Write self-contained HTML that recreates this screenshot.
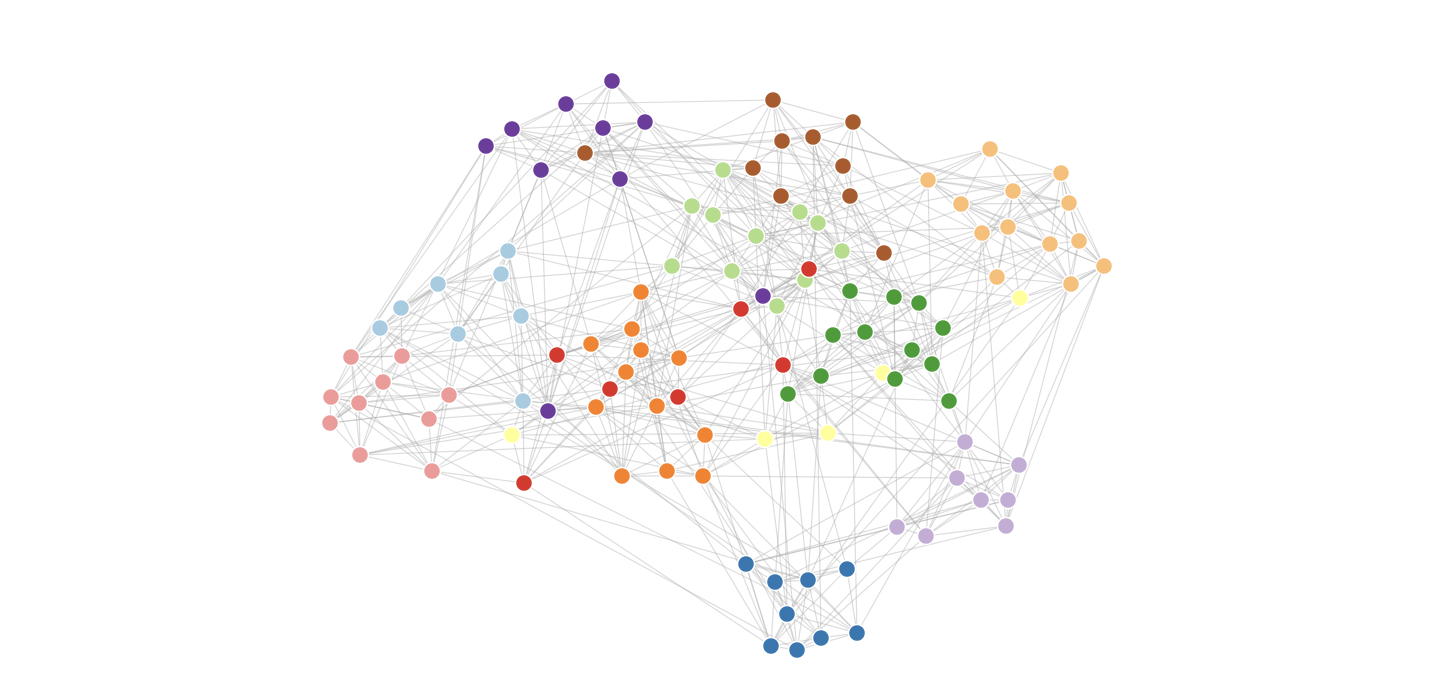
<!DOCTYPE html>
<html><head><meta charset="utf-8"><style>
html,body{margin:0;padding:0;background:#fff;width:1440px;height:694px;overflow:hidden}
svg{display:block}
</style></head><body>
<svg id="g" width="1440" height="694" xmlns="http://www.w3.org/2000/svg"><g id="e"></g><g id="n"></g></svg>
<script>
const C={pu:'#6a3d9a',br:'#a65c2e',lg:'#b8dc8e',lo:'#f4c07c',ye:'#ffffa0',gr:'#4f9b3c',re:'#d33a2f',or:'#ee8434',lb:'#a9cbe0',pk:'#e99c9a',la:'#c2aed4',bl:'#3b76af'};
const D={
pu:[[612,80],[566,103],[512,128],[603,127],[645,121],[486,145],[541,169],[620,178],[763,295],[548,410]],
br:[[773,99],[782,140],[813,136],[853,121],[585,152],[753,167],[843,165],[781,195],[850,195],[884,252]],
lg:[[723,169],[692,205],[713,214],[800,211],[818,222],[756,235],[842,250],[672,265],[732,270],[805,279],[777,305]],
lo:[[990,148],[1061,172],[928,179],[1013,190],[961,203],[1069,202],[982,232],[1008,226],[1050,243],[1079,240],[1104,265],[997,276],[1071,283]],
ye:[[1020,297],[883,372],[512,434],[765,438],[828,432]],
gr:[[850,290],[894,296],[919,302],[943,327],[833,334],[865,331],[912,349],[932,363],[895,378],[821,375],[788,393],[949,400]],
re:[[809,268],[741,308],[557,354],[783,364],[610,388],[678,396],[524,482]],
or:[[641,291],[632,328],[591,343],[641,349],[679,357],[626,371],[596,406],[657,405],[705,434],[622,475],[667,470],[703,475]],
lb:[[508,250],[501,273],[438,283],[401,307],[521,315],[380,327],[458,333],[523,400]],
pk:[[351,356],[402,355],[383,381],[449,394],[331,396],[359,402],[429,418],[330,422],[360,454],[432,470]],
la:[[965,441],[1019,464],[957,477],[981,499],[1008,499],[1006,525],[897,526],[926,535]],
bl:[[746,563],[775,581],[808,579],[847,568],[787,613],[771,645],[797,649],[821,637],[857,632]]};
const N=[];for(const k in D)for(const p of D[k])N.push({x:p[0],y:p[1]+1,c:k});
let s=12345;const r=()=>{s=(s*1103515245+12345)%2147483648;return s/2147483648};
const E=new Set();const add=(a,b)=>{if(a==b)return;E.add(a<b?a+'-'+b:b+'-'+a)};
N.forEach((a,i)=>{
 const d=N.map((b,j)=>[Math.hypot(a.x-b.x,a.y-b.y),j]).sort((p,q)=>p[0]-q[0]);
 for(let t=1;t<=4;t++)add(i,d[t][1]);
 N.forEach((b,j)=>{if(b.c==a.c&&r()<0.3)add(i,j)});
 for(let t=0;t<2;t++){const j=d[6+Math.floor(r()*40)][1];add(i,j)}
 if(r()<0.4){add(i,Math.floor(r()*N.length))}
});
const ns='http://www.w3.org/2000/svg';const eg=document.getElementById('e'),ng=document.getElementById('n');
E.forEach(k=>{const [a,b]=k.split('-').map(Number);const l=document.createElementNS(ns,'line');
l.setAttribute('x1',N[a].x);l.setAttribute('y1',N[a].y);l.setAttribute('x2',N[b].x);l.setAttribute('y2',N[b].y);
l.setAttribute('stroke','#aaa');l.setAttribute('stroke-opacity','0.4');l.setAttribute('stroke-width','1.2');eg.appendChild(l)});
N.forEach(a=>{const c=document.createElementNS(ns,'circle');c.setAttribute('cx',a.x);c.setAttribute('cy',a.y);c.setAttribute('r','8.5');
c.setAttribute('fill',C[a.c]);c.setAttribute('stroke','#fff');c.setAttribute('stroke-width','1.5');ng.appendChild(c)});
</script>
</body></html>
